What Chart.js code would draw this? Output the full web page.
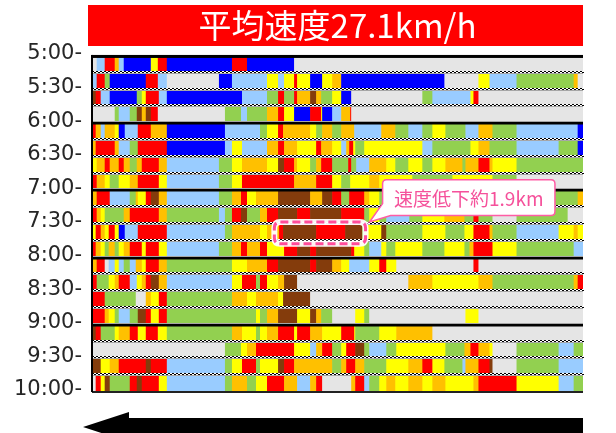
<!DOCTYPE html>
<html><head><meta charset="utf-8">
<script src="https://cdn.jsdelivr.net/npm/chart.js@4.4.0/dist/chart.umd.min.js"></script>
<style>html,body{margin:0;padding:0;background:#fff}</style>
</head><body>
<canvas id="c" width="616" height="433"></canvas>
<script>
// ---- data ----
const titleText = '平均速度27.1km/h';
const calloutText = '速度低下約1.9km';
const timeLabels = ['5:00','5:30','6:00','6:30','7:00','7:30','8:00','8:30','9:00','9:30','10:00'];
const rowStartMinutes = [0,15,30,45,60,75,90,105,120,135,150,165,180,195,210,225,240,255,270,285];
const roadLength = 490; // distance units along the road
// speed classes: g=no data, B,L,G,Y,O,R,N from fast to slow
const speedColors = {g:'#e5e5e5', B:'#0000ff', L:'#99ccff', G:'#92d050', Y:'#ffff00', O:'#ffc000', R:'#ff0000', N:'#843c0c'};
// each row: [segment end position, speed class]
const r0500 = [[5,'g'],[13,'L'],[23,'R'],[27,'O'],[32,'L'],[59,'B'],[66,'Y'],[75,'R'],[140,'B'],[155,'R'],[202,'B'],[490,'g']];
const r0515 = [[5,'L'],[13,'R'],[18,'G'],[54,'B'],[66,'R'],[75,'L'],[127,'g'],[140,'B'],[175,'L'],[186,'Y'],[192,'L'],[202,'Y'],[205,'R'],[218,'Y'],[230,'B'],[240,'Y'],[249,'O'],[352,'B'],[386,'g'],[397,'Y'],[424,'L'],[481,'G'],[485,'O'],[490,'g']];
const r0530 = [[4,'N'],[9,'R'],[18,'L'],[45,'B'],[50,'G'],[54,'Y'],[67,'R'],[75,'L'],[150,'B'],[175,'L'],[186,'G'],[192,'R'],[202,'G'],[205,'R'],[218,'O'],[224,'N'],[229,'O'],[240,'G'],[249,'Y'],[259,'B'],[330,'g'],[340,'G'],[378,'L'],[381,'Y'],[386,'R'],[490,'g']];
const r0545 = [[23,'g'],[27,'G'],[38,'L'],[45,'G'],[50,'N'],[54,'O'],[59,'N'],[66,'R'],[133,'g'],[149,'G'],[155,'L'],[175,'G'],[186,'O'],[192,'R'],[202,'Y'],[218,'B'],[229,'R'],[230,'Y'],[240,'B'],[249,'L'],[258,'O'],[259,'R'],[490,'g']];
const r0600 = [[4,'R'],[9,'O'],[13,'L'],[23,'O'],[27,'Y'],[33,'B'],[46,'L'],[59,'R'],[75,'O'],[133,'B'],[168,'L'],[175,'G'],[186,'Y'],[191,'R'],[218,'O'],[224,'Y'],[230,'G'],[240,'O'],[249,'G'],[262,'O'],[289,'L'],[303,'O'],[316,'G'],[330,'L'],[340,'G'],[353,'Y'],[373,'G'],[386,'L'],[400,'O'],[424,'G'],[485,'L'],[490,'B']];
const r0615 = [[4,'O'],[23,'R'],[27,'O'],[38,'L'],[46,'G'],[75,'R'],[133,'B'],[140,'L'],[150,'Y'],[175,'L'],[186,'O'],[192,'R'],[205,'O'],[224,'Y'],[229,'R'],[240,'O'],[249,'Y'],[254,'L'],[257,'O'],[261,'R'],[263,'Y'],[272,'G'],[330,'Y'],[340,'L'],[378,'G'],[386,'Y'],[397,'O'],[424,'G'],[466,'L'],[485,'G'],[490,'B']];
const r0630 = [[5,'Y'],[13,'O'],[18,'R'],[27,'O'],[32,'R'],[38,'O'],[45,'G'],[50,'O'],[67,'R'],[75,'O'],[127,'L'],[140,'G'],[150,'Y'],[175,'O'],[186,'Y'],[192,'N'],[202,'R'],[205,'O'],[218,'Y'],[224,'G'],[229,'O'],[240,'R'],[256,'G'],[259,'R'],[264,'G'],[277,'L'],[294,'O'],[303,'Y'],[316,'G'],[330,'Y'],[340,'G'],[353,'Y'],[370,'O'],[373,'G'],[386,'O'],[397,'R'],[400,'O'],[424,'Y'],[490,'G']];
const r0645 = [[5,'R'],[13,'O'],[18,'Y'],[27,'G'],[38,'Y'],[46,'O'],[67,'R'],[75,'Y'],[127,'L'],[140,'G'],[150,'Y'],[202,'R'],[224,'O'],[240,'R'],[249,'Y'],[258,'G'],[277,'Y'],[287,'O'],[320,'Y'],[360,'G'],[400,'Y'],[424,'G'],[490,'g']];
const r0700 = [[5,'O'],[18,'R'],[38,'L'],[44,'G'],[46,'O'],[54,'Y'],[59,'R'],[67,'N'],[75,'O'],[127,'L'],[140,'G'],[149,'O'],[155,'R'],[164,'Y'],[186,'O'],[218,'N'],[230,'O'],[240,'N'],[249,'R'],[257,'G'],[272,'R'],[277,'O'],[287,'Y'],[485,'G'],[490,'O']];
const r0715 = [[5,'R'],[9,'O'],[13,'Y'],[32,'G'],[38,'O'],[67,'R'],[75,'O'],[127,'G'],[133,'L'],[140,'G'],[149,'R'],[155,'N'],[168,'G'],[175,'O'],[186,'R'],[205,'N'],[218,'R'],[249,'N'],[272,'R'],[277,'G'],[287,'Y'],[294,'G'],[317,'L'],[330,'G'],[352,'Y'],[372,'O'],[381,'G'],[386,'R'],[400,'G'],[424,'g'],[475,'G'],[490,'g']];
const r0730 = [[4,'Y'],[9,'R'],[13,'O'],[17,'Y'],[23,'R'],[27,'Y'],[33,'B'],[46,'L'],[75,'R'],[133,'L'],[140,'G'],[168,'O'],[175,'Y'],[187,'O'],[191,'R'],[224,'N'],[253,'R'],[270,'N'],[274,'G'],[289,'Y'],[294,'N'],[330,'G'],[353,'Y'],[372,'G'],[381,'Y'],[397,'R'],[400,'O'],[424,'G'],[466,'L'],[481,'Y'],[485,'O'],[490,'Y']];
const r0745 = [[4,'R'],[9,'O'],[13,'Y'],[17,'G'],[23,'O'],[27,'G'],[32,'Y'],[38,'O'],[50,'R'],[54,'Y'],[67,'R'],[75,'Y'],[127,'L'],[140,'G'],[149,'O'],[155,'R'],[168,'O'],[175,'R'],[192,'Y'],[205,'R'],[218,'N'],[224,'R'],[259,'N'],[262,'R'],[272,'Y'],[277,'G'],[289,'L'],[294,'Y'],[303,'G'],[330,'Y'],[352,'G'],[372,'Y'],[377,'G'],[381,'O'],[400,'R'],[424,'Y'],[481,'G'],[490,'L']];
const r0800 = [[5,'O'],[13,'R'],[17,'g'],[23,'L'],[27,'Y'],[32,'L'],[38,'G'],[44,'L'],[50,'O'],[54,'Y'],[67,'R'],[75,'O'],[140,'G'],[155,'Y'],[175,'O'],[186,'R'],[218,'N'],[224,'R'],[240,'N'],[249,'O'],[257,'Y'],[277,'L'],[287,'Y'],[294,'R'],[304,'Y'],[381,'g'],[386,'R'],[490,'g']];
const r0815 = [[5,'R'],[17,'G'],[23,'Y'],[27,'O'],[38,'R'],[45,'L'],[50,'Y'],[54,'O'],[59,'R'],[67,'N'],[75,'O'],[140,'L'],[150,'Y'],[164,'R'],[168,'G'],[175,'R'],[186,'Y'],[192,'O'],[205,'N'],[316,'g'],[340,'O'],[386,'Y'],[400,'O'],[481,'G'],[485,'O'],[490,'R']];
const r0830 = [[13,'R'],[44,'G'],[54,'g'],[59,'O'],[67,'Y'],[75,'R'],[140,'G'],[155,'O'],[164,'Y'],[186,'O'],[191,'Y'],[218,'N'],[490,'g']];
const r0845 = [[13,'R'],[17,'O'],[23,'Y'],[27,'G'],[38,'L'],[46,'G'],[54,'N'],[59,'R'],[67,'Y'],[75,'R'],[164,'G'],[168,'Y'],[175,'G'],[186,'O'],[205,'N'],[218,'Y'],[224,'N'],[229,'O'],[240,'G'],[263,'g'],[272,'Y'],[277,'G'],[373,'g'],[386,'Y'],[490,'g']];
const r0900 = [[4,'N'],[9,'R'],[23,'G'],[27,'Y'],[38,'O'],[46,'R'],[54,'Y'],[66,'R'],[75,'Y'],[140,'G'],[150,'O'],[164,'Y'],[168,'G'],[175,'Y'],[186,'O'],[202,'R'],[205,'Y'],[218,'R'],[230,'O'],[249,'Y'],[262,'R'],[263,'Y'],[287,'G'],[304,'Y'],[340,'O'],[490,'g']];
const r0915 = [[133,'g'],[149,'G'],[155,'Y'],[164,'O'],[202,'R'],[218,'Y'],[224,'L'],[230,'O'],[240,'R'],[249,'G'],[254,'Y'],[263,'R'],[272,'N'],[277,'G'],[294,'L'],[304,'G'],[353,'Y'],[372,'G'],[378,'O'],[386,'R'],[397,'O'],[400,'Y'],[424,'g'],[466,'G'],[481,'L'],[490,'G']];
const r0930 = [[9,'N'],[18,'Y'],[27,'O'],[54,'R'],[59,'N'],[75,'R'],[133,'L'],[140,'G'],[150,'Y'],[164,'R'],[168,'G'],[186,'Y'],[192,'N'],[202,'R'],[240,'O'],[249,'G'],[254,'O'],[263,'R'],[272,'O'],[294,'G'],[316,'Y'],[330,'O'],[340,'R'],[352,'Y'],[370,'G'],[373,'L'],[386,'O'],[397,'R'],[400,'N'],[424,'g'],[466,'G'],[490,'L']];
const r0945 = [[4,'g'],[9,'R'],[13,'Y'],[18,'N'],[38,'G'],[45,'R'],[50,'N'],[67,'R'],[75,'Y'],[133,'L'],[140,'G'],[155,'O'],[164,'G'],[175,'Y'],[192,'R'],[205,'O'],[218,'L'],[224,'O'],[230,'R'],[259,'g'],[263,'O'],[272,'R'],[277,'L'],[287,'G'],[294,'Y'],[303,'O'],[316,'Y'],[330,'O'],[340,'Y'],[353,'O'],[381,'Y'],[386,'O'],[424,'R'],[466,'Y'],[481,'L'],[490,'G']];
// highlighted slowdown: row 7:30, from/to positions
const slowdownRowMinute = 150;
const slowdownFrom = 182, slowdownTo = 273;

const rows = [r0500,r0515,r0530,r0545,r0600,r0615,r0630,r0645,r0700,r0715,r0730,r0745,r0800,r0815,r0830,r0845,r0900,r0915,r0930,r0945];

const bars = [];
rows.forEach((row, i) => {
  let prev = 0;
  row.forEach(([end, c]) => {
    bars.push({x: [prev, end], y: rowStartMinutes[i] + 7.5, c});
    prev = end;
  });
});

function rr(ctx, x, y, w, h, r) {
  ctx.beginPath();
  ctx.moveTo(x + r, y);
  ctx.lineTo(x + w - r, y); ctx.quadraticCurveTo(x + w, y, x + w, y + r);
  ctx.lineTo(x + w, y + h - r); ctx.quadraticCurveTo(x + w, y + h, x + w - r, y + h);
  ctx.lineTo(x + r, y + h); ctx.quadraticCurveTo(x, y + h, x, y + h - r);
  ctx.lineTo(x, y + r); ctx.quadraticCurveTo(x, y, x + r, y);
  ctx.closePath();
}

const titleBg = {
  id: 'titleBg',
  beforeDraw(chart) {
    const ctx = chart.ctx, a = chart.chartArea, tb = chart.titleBlock;
    ctx.save();
    ctx.fillStyle = '#ff0000';
    ctx.fillRect(a.left - 4, tb.top + 2, a.right - a.left + 4, 41);
    ctx.restore();
  }
};

const frame = {
  id: 'frame',
  afterDatasetsDraw(chart) {
    const ctx = chart.ctx, y = chart.scales.y, a = chart.chartArea;
    ctx.save();
    for (let i = 1; i < 20; i++) {
      const yb = Math.round(y.getPixelForValue(i * 15));
      if (i % 4 === 0) {
        ctx.fillStyle = '#a6a6a6';
        ctx.fillRect(a.left, yb - 2, a.right - a.left, 1);
        ctx.fillStyle = '#000';
        ctx.fillRect(a.left, yb - 1, a.right - a.left, 2.5);
      } else {
        ctx.fillStyle = '#fff';
        ctx.fillRect(a.left, yb - 2, a.right - a.left, 2);
        ctx.fillStyle = '#000';
        for (let x = a.left; x < a.right; x += 4) {
          ctx.fillRect(x, yb - 2, 2, 1);
          ctx.fillRect(x + 2, yb - 1, 2, 1);
        }
        ctx.fillStyle = '#a6a6a6';
        ctx.fillRect(a.left, yb, a.right - a.left, 1);
      }
    }
    ctx.fillStyle = '#000';
    ctx.fillRect(a.left, a.top - 1, a.right - a.left, 3);
    ctx.fillStyle = '#222';
    ctx.fillRect(a.left, a.bottom - 1, a.right - a.left, 2);
    ctx.fillStyle = '#000';
    ctx.fillRect(a.left - 1, a.top - 1, 2, a.bottom - a.top + 1);
    ctx.restore();
  }
};

const annot = {
  id: 'annot',
  afterDraw(chart) {
    const ctx = chart.ctx, x = chart.scales.x, y = chart.scales.y, a = chart.chartArea;
    ctx.save();
    // highlight around slowdown
    const hx1 = x.getPixelForValue(slowdownFrom), hx2 = x.getPixelForValue(slowdownTo);
    const hy1 = y.getPixelForValue(slowdownRowMinute) - 2, hy2 = y.getPixelForValue(slowdownRowMinute + 15) + 3;
    rr(ctx, hx1, hy1, hx2 - hx1, hy2 - hy1, 6);
    ctx.strokeStyle = 'rgba(255,255,255,0.95)';
    ctx.lineWidth = 6;
    ctx.stroke();
    ctx.setLineDash([8, 4]);
    ctx.strokeStyle = '#ff4d9a';
    ctx.lineWidth = 3;
    ctx.stroke();
    ctx.setLineDash([]);
    // callout box
    const bx1 = x.getPixelForValue(290), bx2 = x.getPixelForValue(462);
    const by1 = y.getPixelForValue(110.5), by2 = y.getPixelForValue(142.5);
    const tipX = x.getPixelForValue(277), tipY = hy1;
    const r = 4;
    ctx.beginPath();
    ctx.moveTo(bx1 + r, by1);
    ctx.lineTo(bx2 - r, by1); ctx.quadraticCurveTo(bx2, by1, bx2, by1 + r);
    ctx.lineTo(bx2, by2 - r); ctx.quadraticCurveTo(bx2, by2, bx2 - r, by2);
    ctx.lineTo(bx1 + 8, by2);
    ctx.lineTo(tipX, tipY);
    ctx.lineTo(bx1, by2 - 12);
    ctx.lineTo(bx1, by1 + r); ctx.quadraticCurveTo(bx1, by1, bx1 + r, by1);
    ctx.closePath();
    ctx.fillStyle = '#fff';
    ctx.fill();
    ctx.strokeStyle = '#ff5ca5';
    ctx.lineWidth = 1.5;
    ctx.stroke();
    ctx.fillStyle = '#f5519b';
    ctx.font = '19px "Noto Sans CJK JP"';
    ctx.textAlign = 'center';
    ctx.textBaseline = 'middle';
    ctx.fillText(calloutText, (bx1 + bx2) / 2, (by1 + by2) / 2 + 1);
    // direction arrow
    const ay = a.bottom + 35;
    ctx.fillStyle = '#000';
    ctx.beginPath();
    ctx.moveTo(a.left - 9, ay);
    ctx.lineTo(a.left + 37, ay - 15);
    ctx.lineTo(a.left + 37, ay - 9);
    ctx.lineTo(a.right, ay - 9);
    ctx.lineTo(a.right, ay + 9);
    ctx.lineTo(a.left + 37, ay + 9);
    ctx.lineTo(a.left + 37, ay + 15);
    ctx.closePath();
    ctx.fill();
    ctx.restore();
  }
};

new Chart(document.getElementById('c'), {
  type: 'bar',
  data: {
    datasets: [{
      data: bars,
      backgroundColor: ctx => speedColors[ctx.raw.c],
      borderWidth: 0,
      barPercentage: 1,
      categoryPercentage: 1
    }]
  },
  options: {
    indexAxis: 'y',
    responsive: false,
    animation: false,
    events: [],
    layout: {padding: {left: 0, right: 33, top: 3, bottom: 41}},
    plugins: {
      legend: {display: false},
      tooltip: {enabled: false},
      title: {
        display: true,
        fullSize: false,
        text: titleText,
        color: '#fff',
        font: {family: '"Noto Sans CJK JP"', size: 33, weight: 'normal', lineHeight: 1.15},
        padding: {top: 3, bottom: 12}
      }
    },
    scales: {
      x: {type: 'linear', min: 0, max: roadLength, display: false},
      y: {
        type: 'linear', min: 0, max: 300, reverse: true, offset: false,
        afterFit: s => { s.width = 92; },
        grid: {display: false, drawTicks: false},
        border: {display: false},
        ticks: {
          stepSize: 30, padding: 10, labelOffset: -2,
          color: '#262626',
          font: {family: '"DejaVu Sans"', size: 21},
          callback: v => timeLabels[v / 30] + '-'
        }
      }
    }
  },
  plugins: [titleBg, frame, annot]
});
</script>
</body></html>
